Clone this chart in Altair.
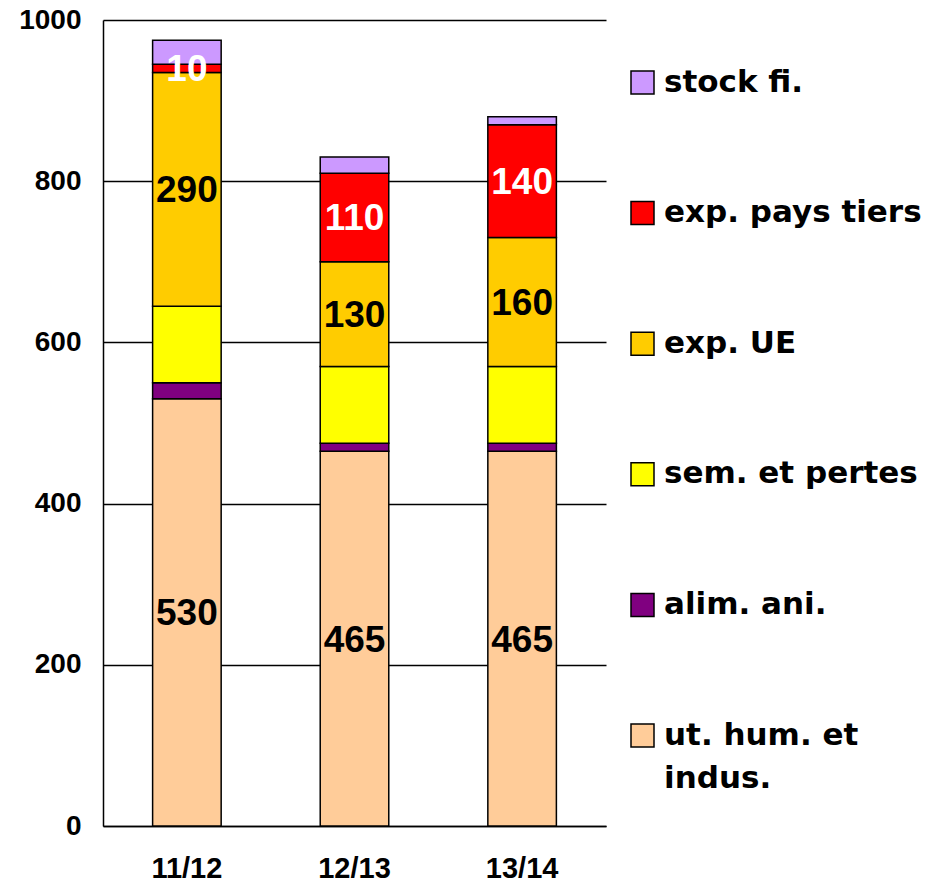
import altair as alt
import pandas as pd

years = ["11/12", "12/13", "13/14"]
# series, bottom to top of each stack
categories = ["ut. hum. et indus.", "alim. ani.", "sem. et pertes",
              "exp. UE", "exp. pays tiers", "stock fi."]
ut_hum = [530, 465, 465]
alim_ani = [20, 10, 10]
sem_pertes = [95, 95, 95]
exp_ue = [290, 130, 160]
exp_pays_tiers = [10, 110, 140]
stock_fi = [30, 20, 10]
labelled = ["ut. hum. et indus.", "exp. UE", "exp. pays tiers"]
colors = ["#FFCC99", "#800080", "#FFFF00", "#FFCC00", "#FF0000", "#CC99FF"]
y_ticks = [0, 200, 400, 600, 800, 1000]

series = [ut_hum, alim_ani, sem_pertes, exp_ue, exp_pays_tiers, stock_fi]
rows = []
for k, (cat, vals) in enumerate(zip(categories, series)):
    for yr, v in zip(years, vals):
        rows.append({"year": yr, "cat": cat, "ord": k, "value": v,
                     "show": 1 if cat in labelled else 0})
df = pd.DataFrame(rows)

legend_order = categories[::-1]
legend_colors = colors[::-1]

base = alt.Chart(df).transform_stack(
    stack="value", groupby=["year"], as_=["y0", "y1"],
    sort=[alt.SortField("ord", order="ascending")]
).transform_calculate(mid="(datum.y0 + datum.y1) / 2")

x_enc = alt.X("year:N", sort=years, title=None,
              scale=alt.Scale(paddingInner=0.591, paddingOuter=0.296),
              axis=alt.Axis(labelAngle=0, labelFont="Liberation Sans",
                            labelFontWeight="bold", labelFontSize=29,
                            labelColor="black", ticks=False, tickSize=0,
                            labelPadding=28, domainColor="black",
                            domainWidth=1.5, grid=False))

bars = base.mark_bar(stroke="black", strokeWidth=1.5).encode(
    x=x_enc,
    y=alt.Y("y0:Q", title=None,
            scale=alt.Scale(domain=[0, 1000], nice=False),
            axis=alt.Axis(values=y_ticks, format="d",
                          labelFont="Liberation Sans", labelFontWeight="bold",
                          labelFontSize=28, labelColor="black",
                          ticks=False, tickSize=0, labelPadding=22,
                          domainColor="black", domainWidth=1.5,
                          grid=True, gridColor="black", gridWidth=1.5)),
    y2="y1:Q",
    color=alt.Color("cat:N",
                    scale=alt.Scale(domain=legend_order, range=legend_colors),
                    legend=alt.Legend(
                        title=None, orient="none", legendX=524, legendY=47,
                        symbolType="square", symbolSize=529,
                        symbolStrokeColor="black", symbolStrokeWidth=1.5,
                        labelFont="DejaVu Sans", labelFontWeight="bold",
                        labelFontSize=31, labelColor="black", labelOffset=6,
                        labelLimit=400, rowPadding=98.6, padding=0,
                        labelExpr="datum.label == 'ut. hum. et indus.' ? ['ut. hum. et', 'indus.'] : datum.label")),
)

texts = base.transform_filter("datum.show == 1").mark_text(
    font="Liberation Sans", fontWeight="bold", fontSize=37,
    baseline="middle", align="center", dy=2
).encode(
    x=alt.X("year:N", sort=years),
    y=alt.Y("mid:Q"),
    text=alt.Text("value:Q"),
    color=alt.condition("datum.cat == 'exp. pays tiers'",
                        alt.value("white"), alt.value("black")),
)

chart = alt.layer(bars, texts).properties(
    width=503, height=806,
    autosize=alt.AutoSizeParams(type="none"),
    padding={"left": 95, "top": 12, "right": 334, "bottom": 57},
).configure(
    style={"guide-label": {"lineHeight": 43}}
).configure_view(stroke=None)

chart.save("out.html", embed_options={"renderer": "svg", "actions": False})
